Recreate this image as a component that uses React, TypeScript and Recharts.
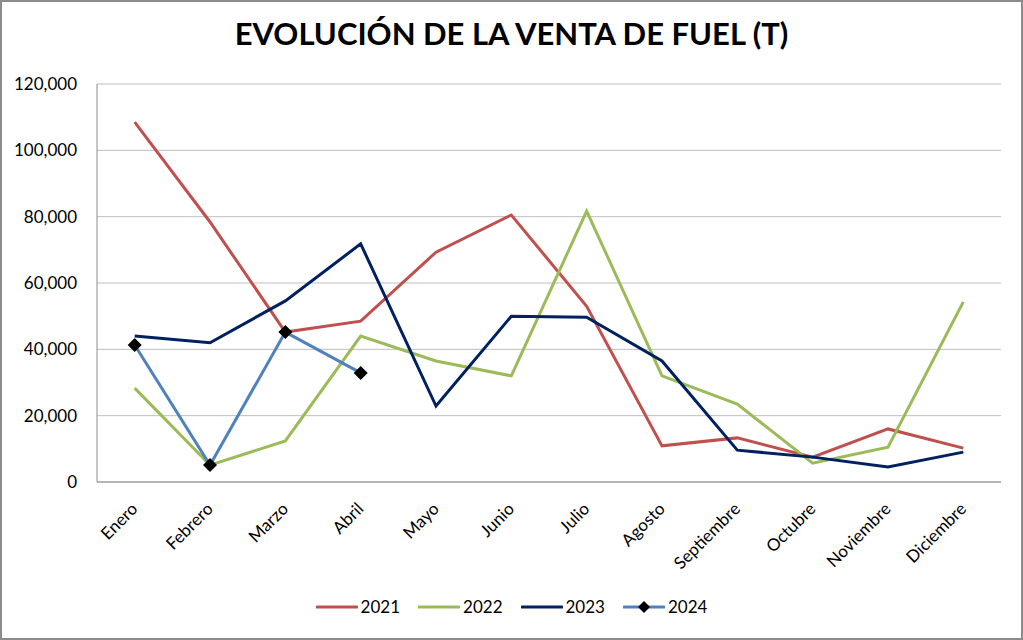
import { LineChart, Line, XAxis, YAxis, CartesianGrid } from 'recharts'

const months = ['Enero', 'Febrero', 'Marzo', 'Abril', 'Mayo', 'Junio', 'Julio', 'Agosto', 'Septiembre', 'Octubre', 'Noviembre', 'Diciembre']
const v2021 = [108500, 78400, 45200, 48500, 69300, 80500, 53000, 10900, 13300, 7500, 16000, 10200]
const v2022 = [28300, 5100, 12400, 44000, 36500, 32000, 81700, 32000, 23500, 5700, 10500, 54300]
const v2023 = [44000, 42000, 54600, 71800, 22900, 50000, 49700, 36500, 9600, 7500, 4500, 9000]
const v2024 = [41300, 5100, 45200, 32900]
const yTicks = [0, 20000, 40000, 60000, 80000, 100000, 120000]

const series = [
    { key: 'y2021', name: '2021', color: '#c0504d' },
    { key: 'y2022', name: '2022', color: '#9bbb59' },
    { key: 'y2023', name: '2023', color: '#002060' },
    { key: 'y2024', name: '2024', color: '#4f81bd' },
]

const data = months.map((m, i) => ({
    month: m,
    y2021: v2021[i],
    y2022: v2022[i],
    y2023: v2023[i],
    y2024: v2024[i] ?? null,
}))

const FONT = 'Lato, "Open Sans", sans-serif'

const Diamond = ({ cx, cy }: any) => {
    if (cx == null || cy == null) return null
    const r = 7
    return <polygon points={`${cx},${cy - r} ${cx + r},${cy} ${cx},${cy + r} ${cx - r},${cy}`} fill="#000" />
}

const MonthTick = ({ x, y, payload }: any) => (
    <text x={x + 4} y={y + 20} textAnchor="end" transform={`rotate(-45 ${x + 4} ${y + 20})`}
        fontSize={17} fill="#000" fontFamily={FONT}>
        {payload.value}
    </text>
)

// legend drawn as plain html so it does not eat into the plot area
const LegendRow = () => (
    <div style={{ position: 'absolute', left: 0, top: 596, width: 1023, display: 'flex', justifyContent: 'center', gap: 18, fontFamily: FONT, fontSize: 17, color: '#000' }}>
        {series.map(s => (
            <div key={s.key} style={{ display: 'flex', alignItems: 'center', gap: 3 }}>
                <svg width={42} height={14}>
                    <line x1={1} y1={7} x2={41} y2={7} stroke={s.color} strokeWidth={3} strokeLinecap="round" />
                    {s.key === 'y2024' && <polygon points="21,1 27,7 21,13 15,7" fill="#000" />}
                </svg>
                <span>{s.name}</span>
            </div>
        ))}
    </div>
)

export default function App() {
    return (
        <div style={{ position: 'absolute', left: 0, top: 0, width: 1023, height: 640, background: '#fff' }}>
            <div style={{ position: 'absolute', inset: 0, border: '2px solid #8c8c8c', boxSizing: 'border-box', pointerEvents: 'none', zIndex: 2 }} />
            <div style={{ position: 'absolute', top: 14, left: 0, width: 1023, textAlign: 'center', fontFamily: FONT, fontWeight: 700, fontSize: 31, color: '#000' }}>
                EVOLUCIÓN DE LA VENTA DE FUEL (T)
            </div>
            <LineChart width={1023} height={640} data={data} margin={{ top: 84, right: 22, bottom: 68, left: 0 }}>
                <CartesianGrid horizontal vertical={false} stroke="#bfbfbf" strokeWidth={1} />
                <XAxis dataKey="month" interval={0} tick={<MonthTick />} tickLine={false}
                    axisLine={{ stroke: '#8c8c8c' }} padding={{ left: 37.7, right: 37.7 }} height={90} />
                <YAxis domain={[0, 120000]} ticks={yTicks} tickFormatter={(v: number) => v.toLocaleString('en-US')}
                    tick={{ fontSize: 17, fill: '#000', fontFamily: FONT }} tickLine={false}
                    axisLine={{ stroke: '#8c8c8c' }} width={97} tickMargin={14} />
                {series.map(s => (
                    <Line key={s.key} type="linear" dataKey={s.key} name={s.name} stroke={s.color} strokeWidth={3}
                        dot={s.key === 'y2024' ? <Diamond /> : false} activeDot={false} isAnimationActive={false} />
                ))}
            </LineChart>
            <LegendRow />
        </div>
    )
}
